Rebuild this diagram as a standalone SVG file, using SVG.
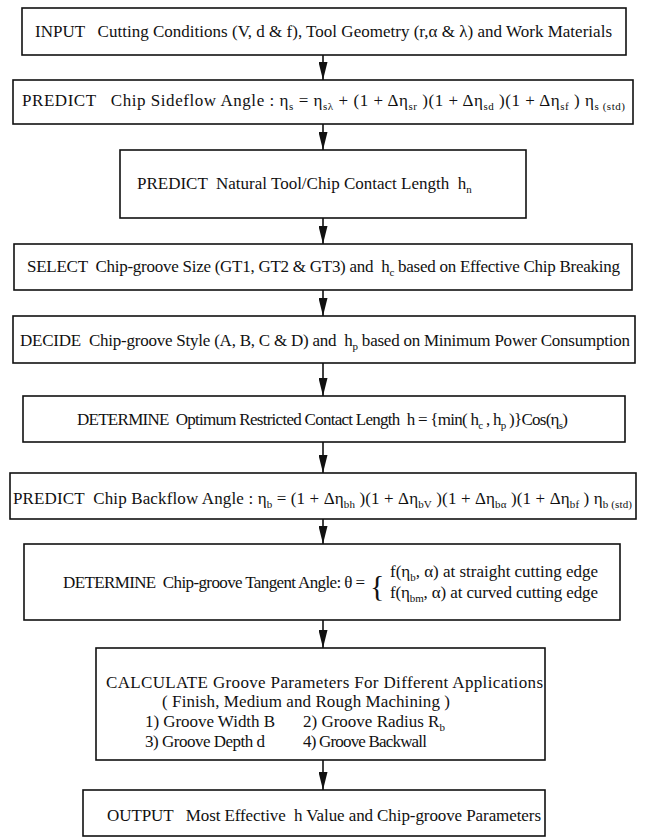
<svg xmlns="http://www.w3.org/2000/svg" width="645" height="839" viewBox="0 0 645 839">
<style>
.box{fill:#fff;stroke:#111;stroke-width:1.6}
.t{font-family:"Liberation Serif","Times New Roman",serif;font-size:17px;fill:#111;white-space:pre}
.s{font-size:11px}
.c{stroke:#111;stroke-width:1.6;fill:none}
</style>
<defs>
<marker id="ah" markerWidth="18" markerHeight="9" refX="18" refY="4.5" orient="auto" markerUnits="userSpaceOnUse" viewBox="0 0 18 9">
<path d="M0,0 L18,4.5 L0,9 Z" fill="#111"/>
</marker>
</defs>
<rect width="645" height="839" fill="#fff"/>
<g id="connectors">
<line class="c" x1="323" y1="55" x2="323" y2="80" marker-end="url(#ah)"/>
<line class="c" x1="323" y1="124" x2="323" y2="150" marker-end="url(#ah)"/>
<line class="c" x1="323" y1="218" x2="323" y2="244" marker-end="url(#ah)"/>
<line class="c" x1="323" y1="290" x2="323" y2="316" marker-end="url(#ah)"/>
<line class="c" x1="323" y1="363" x2="323" y2="396" marker-end="url(#ah)"/>
<line class="c" x1="323" y1="442" x2="323" y2="473" marker-end="url(#ah)"/>
<line class="c" x1="323" y1="519" x2="323" y2="544" marker-end="url(#ah)"/>
<line class="c" x1="323" y1="620" x2="323" y2="648" marker-end="url(#ah)"/>
<line class="c" x1="323" y1="760" x2="323" y2="790" marker-end="url(#ah)"/>
</g>
<g id="n1">
<rect class="box" x="22" y="8" width="604" height="47"/>
<text class="t" x="35" y="37" textLength="577" lengthAdjust="spacing">INPUT   Cutting Conditions (V, d &amp; f), Tool Geometry (r,α &amp; λ) and Work Materials</text>
</g>
<g id="n2">
<rect class="box" x="13" y="80" width="620" height="44"/>
<text class="t" x="22" y="106" textLength="603" lengthAdjust="spacing">PREDICT   Chip Sideflow Angle : η<tspan class="s" dy="4">s</tspan><tspan dy="-4"> = η</tspan><tspan class="s" dy="4">sλ</tspan><tspan dy="-4"> + (1 + Δη</tspan><tspan class="s" dy="4">sr</tspan><tspan dy="-4"> )(1 + Δη</tspan><tspan class="s" dy="4">sd</tspan><tspan dy="-4"> )(1 + Δη</tspan><tspan class="s" dy="4">sf</tspan><tspan dy="-4"> ) η</tspan><tspan class="s" dy="4">s (std)</tspan></text>
</g>
<g id="n3">
<rect class="box" x="120" y="150" width="406" height="68"/>
<text class="t" x="137" y="189">PREDICT  Natural Tool/Chip Contact Length  h<tspan class="s" dy="4">n</tspan></text>
</g>
<g id="n4">
<rect class="box" x="14" y="244" width="618" height="46"/>
<text class="t" x="27" y="272" textLength="593" lengthAdjust="spacing">SELECT  Chip-groove Size (GT1, GT2 &amp; GT3) and  h<tspan class="s" dy="4">c</tspan><tspan dy="-4"> based on Effective Chip Breaking</tspan></text>
</g>
<g id="n5">
<rect class="box" x="13" y="316" width="622" height="47"/>
<text class="t" x="20" y="346" textLength="610" lengthAdjust="spacing">DECIDE  Chip-groove Style (A, B, C &amp; D) and  h<tspan class="s" dy="4">p</tspan><tspan dy="-4"> based on Minimum Power Consumption</tspan></text>
</g>
<g id="n6">
<rect class="box" x="23" y="396" width="602" height="46"/>
<text class="t" x="77" y="425" textLength="491" lengthAdjust="spacing">DETERMINE  Optimum Restricted Contact Length  h = {min( h<tspan class="s" dy="4">c</tspan><tspan dy="-4"> , h</tspan><tspan class="s" dy="4">p</tspan><tspan dy="-4"> )}Cos(η</tspan><tspan class="s" dy="4">s</tspan><tspan dy="-4">)</tspan></text>
</g>
<g id="n7">
<rect class="box" x="10" y="473" width="626" height="46"/>
<text class="t" x="13" y="504" textLength="619" lengthAdjust="spacing">PREDICT  Chip Backflow Angle : η<tspan class="s" dy="4">b</tspan><tspan dy="-4"> = (1 + Δη</tspan><tspan class="s" dy="4">bh</tspan><tspan dy="-4"> )(1 + Δη</tspan><tspan class="s" dy="4">bV</tspan><tspan dy="-4"> )(1 + Δη</tspan><tspan class="s" dy="4">bα</tspan><tspan dy="-4"> )(1 + Δη</tspan><tspan class="s" dy="4">bf</tspan><tspan dy="-4"> ) η</tspan><tspan class="s" dy="4">b (std)</tspan></text>
</g>
<g id="n8">
<rect class="box" x="24" y="544" width="596" height="76"/>
<text class="t" x="63" y="588" textLength="302" lengthAdjust="spacing">DETERMINE  Chip-groove Tangent Angle: θ =</text>
<text class="t" x="370" y="596" style="font-size:30px">{</text>
<text class="t" x="390" y="577" textLength="208" lengthAdjust="spacing">f(η<tspan class="s" dy="4">b</tspan><tspan dy="-4">, α) at straight cutting edge</tspan></text>
<text class="t" x="390" y="598" textLength="208" lengthAdjust="spacing">f(η<tspan class="s" dy="4">bm</tspan><tspan dy="-4">, α) at curved cutting edge</tspan></text>
</g>
<g id="n9">
<rect class="box" x="96" y="648" width="449" height="112"/>
<text class="t" x="106" y="688" textLength="437" lengthAdjust="spacing">CALCULATE Groove Parameters For Different Applications</text>
<text class="t" x="162" y="707" textLength="288" lengthAdjust="spacing">( Finish, Medium and Rough Machining )</text>
<text class="t" x="145" y="727" textLength="130" lengthAdjust="spacing">1) Groove Width B</text>
<text class="t" x="303" y="727">2) Groove Radius R<tspan class="s" dy="4">b</tspan></text>
<text class="t" x="145" y="747" textLength="120" lengthAdjust="spacing">3) Groove Depth d</text>
<text class="t" x="303" y="747" textLength="124" lengthAdjust="spacing">4) Groove Backwall</text>
</g>
<g id="n10">
<rect class="box" x="83" y="790" width="462" height="46"/>
<text class="t" x="107" y="821" textLength="434" lengthAdjust="spacing">OUTPUT   Most Effective  h Value and Chip-groove Parameters</text>
</g>
</svg>
